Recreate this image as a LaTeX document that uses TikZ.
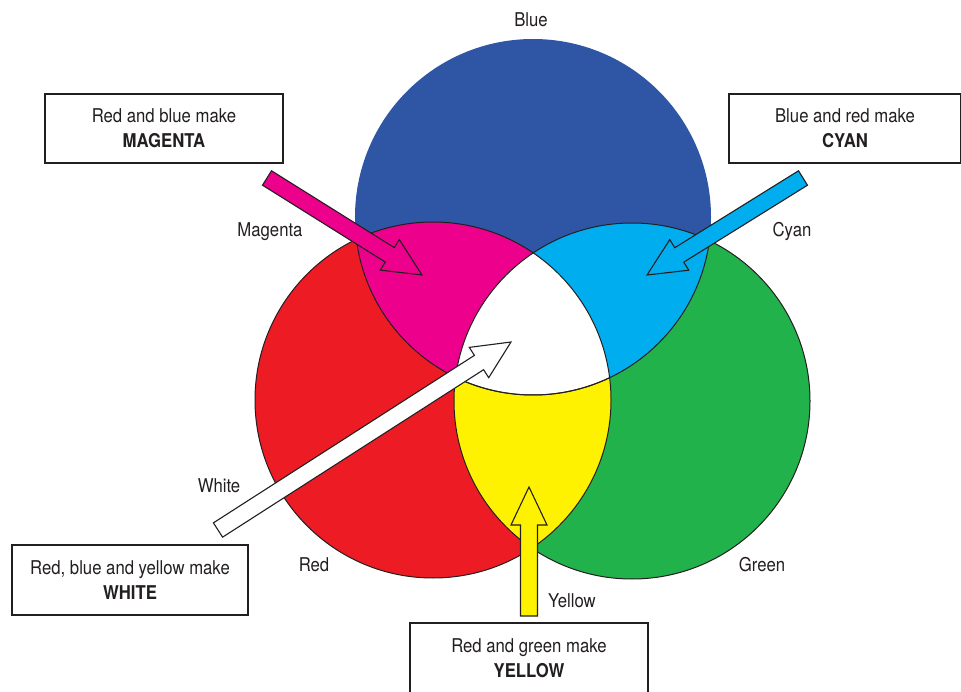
\documentclass[tikz,border=0pt]{standalone}
\usepackage{fontspec}
\setmainfont{TeX Gyre Heros}[FakeStretch=0.88]
\usetikzlibrary{calc}

\definecolor{ink}{HTML}{231F20}
\definecolor{cblue}{HTML}{2E56A5}
\definecolor{cred}{HTML}{ED1C24}
\definecolor{cgreen}{HTML}{22B24C}
\definecolor{cmagenta}{HTML}{EC008C}
\definecolor{ccyan}{HTML}{00AEEF}
\definecolor{cyellow}{HTML}{FFF200}

% block arrow from tail #1 to tip #2, filled with #3
\newcommand{\blockarrow}[3]{%
  \draw[arrowline, fill=#3] let \p1=($(#2)-(#1)$), \n1={veclen(\x1,\y1)}, \n2={atan2(\y1,\x1)} in
    [shift={(#1)}, rotate=\n2]
    (0pt,-8.5pt) -- ({\n1-38pt},-8.5pt) -- ({\n1-38pt},-18pt) -- ({\n1},0pt)
    -- ({\n1-38pt},18pt) -- ({\n1-38pt},8.5pt) -- (0pt,8.5pt) -- cycle;
}

\begin{document}
\begin{tikzpicture}[x=1pt, y=-1pt, font=\fontsize{19}{25}\selectfont, text=ink]
    \tikzstyle{outline} = [draw=ink, line width=1pt];
    \tikzstyle{arrowline} = [draw=ink, line width=1.1pt, line join=miter];
    \tikzstyle{infobox} = [draw=ink, line width=1.3pt, fill=white, align=center, minimum width=238pt, minimum height=69pt, inner sep=0pt];
    \tikzstyle{colourname} = [anchor=base];
    \useasboundingbox (0,0) rectangle (961,692);
    \coordinate (cb) at (533,217);
    \coordinate (cr) at (433,400);
    \coordinate (cg) at (632,401);
    % the three lights
    \fill[cblue] (cb) circle (178pt);
    \fill[cred] (cr) circle (178pt);
    \fill[cgreen] (cg) circle (178pt);
    \begin{scope}
      \clip (cr) circle (178pt);
      \fill[cmagenta] (cb) circle (178pt);
      \fill[cyellow] (cg) circle (178pt);
    \end{scope}
    \begin{scope}
      \clip (cg) circle (178pt);
      \fill[ccyan] (cb) circle (178pt);
    \end{scope}
    \begin{scope}
      \clip (cr) circle (178pt);
      \clip (cg) circle (178pt);
      \fill[white] (cb) circle (178pt);
    \end{scope}
    % outlines
    \draw[outline] (cr) circle (178pt);
    \draw[outline] (cg) circle (178pt);
    \begin{scope}
      \clip (cr) circle (178pt);
      \draw[outline] (cb) circle (178pt);
    \end{scope}
    \begin{scope}
      \clip (cg) circle (178pt);
      \draw[outline] (cb) circle (178pt);
    \end{scope}
    % names of the colours
    \node[colourname] (blue) at (531,27) {Blue};
    \node[colourname] (magenta) at (270,237) {Magenta};
    \node[colourname] (cyan) at (792,237) {Cyan};
    \node[colourname] (white) at (219,492) {White};
    \node[colourname] (red) at (314,571) {Red};
    \node[colourname] (green) at (762,571) {Green};
    \node[colourname] (yellow) at (572,607) {Yellow};
    % boxes
    \node[infobox] (magentabox) at (164,128.5) {Red and blue make\\\textbf{MAGENTA}};
    \node[infobox, minimum width=232pt] (cyanbox) at (845,128.5) {Blue and red make\\\textbf{CYAN}};
    \node[infobox, minimum width=236pt, minimum height=70pt] (whitebox) at (130,580) {Red, blue and yellow make\\\textbf{WHITE}};
    \node[infobox, minimum height=70pt] (yellowbox) at (529,658) {Red and green make\\\textbf{YELLOW}};
    % arrows
    \coordinate (mtail) at (267,178);
    \coordinate (mtip) at (422,275);
    \coordinate (ctail) at (803,178);
    \coordinate (ctip) at (647,275);
    \coordinate (wtail) at (218,530);
    \coordinate (wtip) at (511,342);
    \coordinate (ytail) at (529,616);
    \coordinate (ytip) at (529,487);
    \blockarrow{mtail}{mtip}{cmagenta}
    \blockarrow{ctail}{ctip}{ccyan}
    \blockarrow{wtail}{wtip}{white}
    \blockarrow{ytail}{ytip}{cyellow}
\end{tikzpicture}
\end{document}
